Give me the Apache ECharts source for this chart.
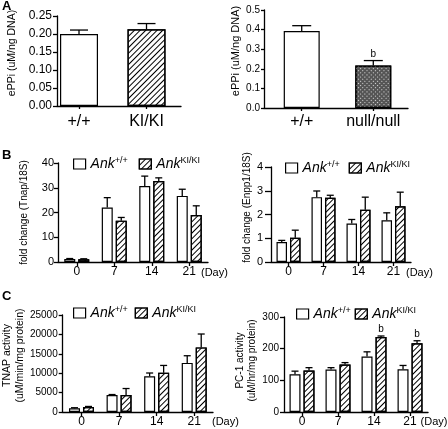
<!DOCTYPE html>
<html><head><meta charset="utf-8">
<script src="https://cdn.jsdelivr.net/npm/echarts@6/dist/echarts.min.js"></script>
<style>html,body{margin:0;padding:0;background:#fff}#c{width:448px;height:429px}</style>
</head><body><div id="c"></div>
<script>
const F = 'Liberation Sans, Arial, Helvetica, sans-serif';

// ---- Panel A : ePPi (uM/ng DNA)
const catsA1 = ['+/+', 'KI/KI'];
const ppiA1 = [0.200, 0.213];
const semA1 = [0.011, 0.016];
const catsA2 = ['+/+', 'null/null'];
const ppiA2 = [0.393, 0.217];
const semA2 = [0.027, 0.025];
const sigA2 = ['', 'b'];

// ---- Panels B, C : day course
const days = ['0', '7', '14', '21'];
const tnapWT = [1.2, 22.0, 30.7, 26.7];
const tnapWTsem = [0.2, 4.0, 4.0, 2.7];
const tnapKI = [1.1, 16.7, 32.7, 19.0];
const tnapKIsem = [0.2, 1.3, 1.3, 3.7];
const enppWT = [0.84, 2.73, 1.62, 1.76];
const enppWTsem = [0.07, 0.26, 0.17, 0.31];
const enppKI = [1.02, 2.70, 2.20, 2.35];
const enppKIsem = [0.32, 0.11, 0.53, 0.59];
const tnapActWT = [950, 4350, 9200, 12650];
const tnapActWTsem = [150, 150, 850, 1850];
const tnapActKI = [1280, 4350, 10100, 16650];
const tnapActKIsem = [150, 1700, 1900, 3450];
const pc1WT = [119, 134, 175, 135];
const pc1WTsem = [10, 6, 15, 12];
const pc1KI = [131, 150, 237, 217];
const pc1KIsem = [9, 6, 3, 8];
const sigPc1KI = ['', '', 'b', 'b'];

const legendNames = ['Ank+/+', 'AnkKI/KI'];

const AX = {color: '#000', width: 1.3};
const whiteStyle = {color: '#fff', borderColor: '#000', borderWidth: 1.2};
const hatch = {symbol: 'rect', symbolSize: 1, color: '#000', dashArrayX: [1, 0], dashArrayY: [1, 2.6], rotation: -Math.PI / 4};
const hatchStyle = {color: '#fff', borderColor: '#000', borderWidth: 1.2, decal: hatch};
const checkStyle = {color: '#555', borderColor: '#000', borderWidth: 1.2,
  decal: {symbol: 'rect', symbolSize: 1, color: '#dcdcdc', dashArrayX: [1, 1.2], dashArrayY: [1, 1.2], rotation: Math.PI / 4}};

function yAx(gi, max, interval, dec, fs, margin, tickLen, name, nameFs, nameGap, padL) {
  return {
    type: 'value', gridIndex: gi, min: 0, max: max, interval: interval,
    axisLine: {show: true, onZero: false, lineStyle: AX},
    axisTick: {show: true, length: tickLen, lineStyle: AX},
    splitLine: {show: false},
    axisLabel: {fontSize: fs, fontFamily: F, color: '#000', margin: margin, formatter: v => v.toFixed(dec)},
    name: name, nameLocation: 'middle', nameRotate: 90, nameGap: nameGap,
    nameTextStyle: {fontSize: nameFs, fontFamily: F, color: '#000', lineHeight: nameFs + 2, padding: [0, 0, 0, padL]}
  };
}
function xValA(gi, min, max, cats, margin) {
  return {
    type: 'value', gridIndex: gi, min: min, max: max,
    axisLine: {show: true, onZero: false, lineStyle: AX},
    axisTick: {show: true, customValues: [0, 1], length: 3, lineStyle: AX},
    axisLabel: {customValues: [0, 1], formatter: v => cats[Math.round(v)], fontSize: 16, fontFamily: F, color: '#000', margin: margin},
    splitLine: {show: false}
  };
}
function xCat(gi, nameGap, padTop) {
  return {
    type: 'category', gridIndex: gi, data: days, boundaryGap: true,
    axisLine: {show: true, onZero: false, lineStyle: AX},
    axisTick: {show: true, alignWithLabel: true, length: 4, lineStyle: AX},
    axisLabel: {fontSize: 12, fontFamily: F, color: '#000', margin: 4, interval: 0},
    name: '(Day)', nameLocation: 'end', nameGap: nameGap,
    nameTextStyle: {fontSize: 11, fontFamily: F, color: '#000', align: 'left', verticalAlign: 'top', padding: [padTop, 0, 0, 0]}
  };
}
function errSeries(gi, data, off, cap, sig) {
  return {
    type: 'custom', xAxisIndex: gi, yAxisIndex: gi, data: data, z: 5, silent: true,
    renderItem: function (params, api) {
      const x = api.value(0), m = api.value(1), e = api.value(2);
      const p0 = api.coord([x, m]), p1 = api.coord([x, m + e]);
      const cx = p0[0] + off;
      const st = {stroke: '#000', lineWidth: 1.3};
      const ch = [
        {type: 'line', shape: {x1: cx, y1: p0[1], x2: cx, y2: p1[1]}, style: st},
        {type: 'line', shape: {x1: cx - cap / 2, y1: p1[1], x2: cx + cap / 2, y2: p1[1]}, style: st}
      ];
      const s = sig && sig[params.dataIndex];
      if (s) ch.push({type: 'text', x: cx, y: p1[1] - 1.5,
        style: {text: s, fill: '#000', fontSize: 10, fontFamily: F, align: 'center', verticalAlign: 'bottom', textAlign: 'center', textVerticalAlign: 'bottom'}});
      return {type: 'group', children: ch};
    }
  };
}
function grouped(gi, wt, wtSem, ki, kiSem, bw, sigKI) {
  const gapPx = 3;
  const off = bw / 2 + gapPx / 2;
  const gap = (gapPx / bw * 100) + '%';
  return [
    {type: 'bar', name: legendNames[0], xAxisIndex: gi, yAxisIndex: gi, data: wt, barWidth: bw, barGap: gap, itemStyle: whiteStyle},
    {type: 'bar', name: legendNames[1], xAxisIndex: gi, yAxisIndex: gi, data: ki, barWidth: bw, barGap: gap, itemStyle: hatchStyle},
    errSeries(gi, wt.map((v, i) => [i, v, wtSem[i]]), -off, 7, null),
    errSeries(gi, ki.map((v, i) => [i, v, kiSem[i]]), off, 7, sigKI)
  ];
}
function legend(left, top, gap) {
  return {
    left: left, top: top, padding: 0, itemGap: gap, itemWidth: 12, itemHeight: 10, icon: 'rect',
    selectedMode: false, data: legendNames,
    itemStyle: {borderWidth: 1.2, borderColor: '#000'},
    formatter: n => n === legendNames[0] ? '{gname|Ank}{sup|+/+}' : '{gname|Ank}{sup|KI/KI}',
    textStyle: {fontSize: 14, fontStyle: 'italic', fontFamily: F, color: '#000', lineHeight: 16,
      rich: {
        gname: {fontSize: 14, fontStyle: 'italic', fontFamily: F, color: '#000', lineHeight: 16},
        sup: {fontSize: 9, fontStyle: 'normal', fontFamily: F, color: '#000', lineHeight: 10, verticalAlign: 'top'}
      }}
  };
}

const option = {
  animation: false,
  backgroundColor: '#fff',
  grid: [
    {left: 57, top: 16, width: 124, height: 90},
    {left: 264, top: 10, width: 144, height: 98},
    {left: 58, top: 163, width: 150, height: 99},
    {left: 271, top: 167, width: 140, height: 95},
    {left: 61, top: 315, width: 152, height: 97},
    {left: 284, top: 317, width: 148, height: 95}
  ],
  xAxis: [
    xValA(0, -0.326, 1.511, catsA1, 8),
    xValA(1, -0.527, 1.485, catsA2, 6),
    xCat(2, -7, 5),
    xCat(3, -5, 5),
    xCat(4, -1, 4),
    xCat(5, -10, 4)
  ],
  yAxis: [
    yAx(0, 0.25, 0.05, 2, 12, 5, 4, 'ePPi (uM/ng DNA)', 10.5, 39, 16),
    yAx(1, 0.5, 0.1, 1, 10, 4, 3, 'ePPi (uM/ng DNA)', 11, 20, 16),
    yAx(2, 40, 10, 0, 11, 4, 4, 'fold change (Tnap/18S)', 10, 28, 0),
    yAx(3, 4, 1, 0, 11, 8, 6, 'fold change (Enpp1/18S)', 10, 11, 14),
    yAx(4, 25000, 5000, 0, 10, 5, 4, 'TNAP activity\n(uM/min/mg protein)', 10.5, 31, 16),
    yAx(5, 300, 100, 0, 10, 5, 4, 'PC-1 activity\n(uM/hr/mg protein)', 10, 17, 8)
  ],
  legend: [legend(73, 156, 11), legend(285, 160, 9), legend(73, 305, 7), legend(296, 306, 4)],
  series: [
    {type: 'bar', name: 'ePPi KI', xAxisIndex: 0, yAxisIndex: 0, barWidth: 38,
      data: ppiA1.map((v, i) => ({value: [i, v], itemStyle: i === 0 ? whiteStyle : hatchStyle}))},
    errSeries(0, ppiA1.map((v, i) => [i, v, semA1[i]]), 0, 18, null),
    {type: 'bar', name: 'ePPi null', xAxisIndex: 1, yAxisIndex: 1, barWidth: 36,
      data: ppiA2.map((v, i) => ({value: [i, v], itemStyle: i === 0 ? whiteStyle : checkStyle}))},
    errSeries(1, ppiA2.map((v, i) => [i, v, semA2[i]]), 0, 19, sigA2),
    ...grouped(2, tnapWT, tnapWTsem, tnapKI, tnapKIsem, 11, null),
    ...grouped(3, enppWT, enppWTsem, enppKI, enppKIsem, 10.5, null),
    ...grouped(4, tnapActWT, tnapActWTsem, tnapActKI, tnapActKIsem, 11, null),
    ...grouped(5, pc1WT, pc1WTsem, pc1KI, pc1KIsem, 11, sigPc1KI)
  ],
  graphic: [
    {type: 'text', left: 2, top: 0, style: {text: 'A', fontSize: 13, fontWeight: 'bold', fontFamily: F, fill: '#000'}},
    {type: 'text', left: 2, top: 149, style: {text: 'B', fontSize: 13, fontWeight: 'bold', fontFamily: F, fill: '#000'}},
    {type: 'text', left: 2, top: 290, style: {text: 'C', fontSize: 13, fontWeight: 'bold', fontFamily: F, fill: '#000'}}
  ]
};
const chart = echarts.init(document.getElementById('c'), null, {renderer: 'canvas'});
chart.setOption(option);
</script></body></html>
